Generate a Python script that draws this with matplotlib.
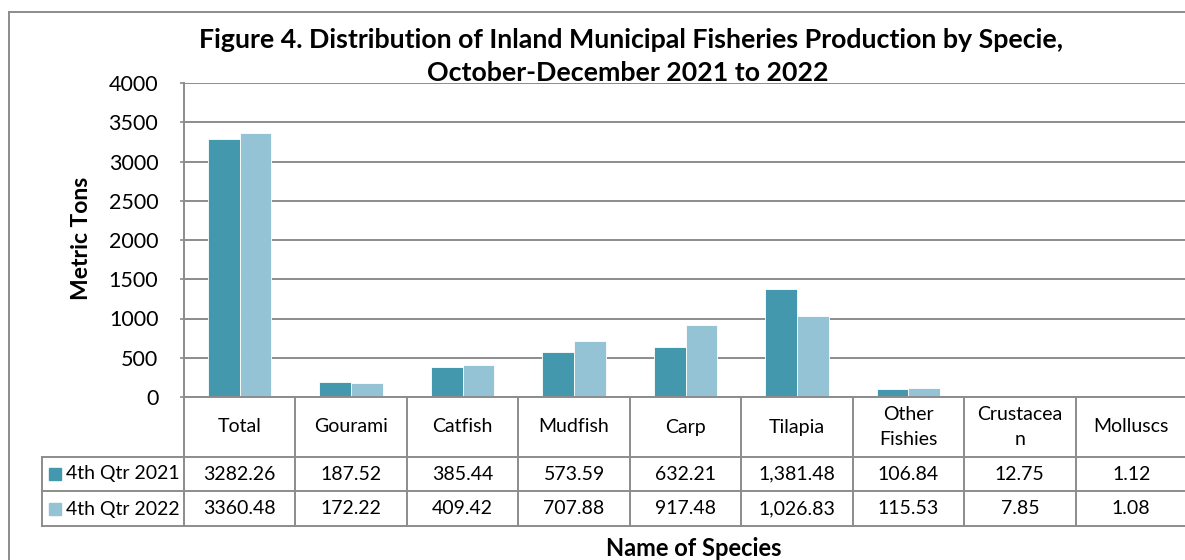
import matplotlib
matplotlib.use("Agg")
import matplotlib.pyplot as plt
import matplotlib.transforms as mtransforms
from matplotlib.patches import Rectangle
import numpy as np

plt.rcParams['font.family'] = ['Lato', 'DejaVu Sans']

# Data
species = ["Total", "Gourami", "Catfish", "Mudfish", "Carp", "Tilapia",
           "Other\nFishies", "Crustacea\nn", "Molluscs"]
series_names = ["4th Qtr 2021", "4th Qtr 2022"]
qtr_2021 = [3282.26, 187.52, 385.44, 573.59, 632.21, 1381.48, 106.84, 12.75, 1.12]
qtr_2022 = [3360.48, 172.22, 409.42, 707.88, 917.48, 1026.83, 115.53, 7.85, 1.08]
labels_2021 = ["3282.26", "187.52", "385.44", "573.59", "632.21", "1,381.48", "106.84", "12.75", "1.12"]
labels_2022 = ["3360.48", "172.22", "409.42", "707.88", "917.48", "1,026.83", "115.53", "7.85", "1.08"]
yticks = [0, 500, 1000, 1500, 2000, 2500, 3000, 3500, 4000]

colors = ["#4398AE", "#93C3D5"]
grid_col = "#8C8C8C"

W, H = 1185, 560
fig = plt.figure(figsize=(W / 100, H / 100), dpi=100)

# plot area in pixels
ax_left, ax_right, ax_top, ax_bot = 184, 1187, 83, 397
ax = fig.add_axes([ax_left / W, 1 - ax_bot / H, (ax_right - ax_left) / W, (ax_bot - ax_top) / H])

x = np.arange(len(species))
bw = 0.285
ax.bar(x - bw / 2, qtr_2021, bw, color=colors[0], edgecolor="white", linewidth=0.6, zorder=3)
ax.bar(x + bw / 2, qtr_2022, bw, color=colors[1], edgecolor="white", linewidth=0.6, zorder=3)

ax.set_xlim(-0.5, len(species) - 0.5)
ax.set_ylim(0, 4000)
ax.set_yticks(yticks)
ax.set_yticklabels([str(t) for t in yticks], fontsize=15.5)
ax.tick_params(axis='y', length=3, color=grid_col, width=1.2, pad=15.5)
ax.set_xticks([])
ax.yaxis.grid(True, color=grid_col, linewidth=1.4, zorder=0)
for s in ["top", "right", "bottom"]:
    ax.spines[s].set_visible(False)
ax.spines["left"].set_color(grid_col)
ax.spines["left"].set_linewidth(1.4)

# data table under the axis
def py(p):
    # pixel row -> axes y fraction
    return (ax_bot - p) / (ax_bot - ax_top)

trans = ax.get_xaxis_transform()
row_y = [397, 457, 491, 526]
lk = dict(color=grid_col, linewidth=1.4, clip_on=False, zorder=4)
for r in row_y:
    ax.plot([-0.5, len(species) - 0.5], [py(r)] * 2, transform=trans, **lk)
for b in np.arange(len(species) + 1) - 0.5:
    ax.plot([b, b], [py(397), py(526)], transform=trans, **lk)

# row header column, x in figure coords
leg_left = 42
blend = mtransforms.blended_transform_factory(fig.transFigure, ax.transAxes)
for r in row_y[1:]:
    ax.plot([leg_left / W, ax_left / W], [py(r)] * 2, transform=blend, **lk)
ax.plot([leg_left / W] * 2, [py(457), py(526)], transform=blend, **lk)

fs = 14
for i, name in enumerate(species):
    ax.text(i, py(427), name, transform=trans, ha="center", va="center",
            fontsize=fs, linespacing=1.55)
    ax.text(i, py(474), labels_2021[i], transform=trans, ha="center", va="center", fontsize=fs)
    ax.text(i, py(509), labels_2022[i], transform=trans, ha="center", va="center", fontsize=fs)

for k, (nm, yc) in enumerate(zip(series_names, [474, 509])):
    fig.patches.append(Rectangle((49 / W, 1 - (yc + 6) / H), 12 / W, 12 / H,
                                 transform=fig.transFigure, color=colors[k]))
    fig.text(66 / W, 1 - yc / H, nm, ha="left", va="center", fontsize=fs)

# titles and axis labels
fig.text(631 / W, 1 - 40 / H, "Figure 4. Distribution of Inland Municipal Fisheries Production by Specie,",
         ha="center", va="center", fontsize=19.3, fontweight="bold")
fig.text(628 / W, 1 - 73 / H, "October-December 2021 to 2022",
         ha="center", va="center", fontsize=19.3, fontweight="bold")
fig.text(82 / W, 1 - 238 / H, "Metric Tons", rotation=90, ha="center", va="center",
         fontsize=16.5, fontweight="bold")
fig.text(694 / W, 1 - 548 / H, "Name of Species", ha="center", va="center",
         fontsize=17, fontweight="bold")

# outer chart frame
fig.lines.append(plt.Line2D([9 / W, 9 / W], [0, 1 - 12 / H], transform=fig.transFigure,
                            color=grid_col, linewidth=1.4))
fig.lines.append(plt.Line2D([9 / W, 1], [1 - 12 / H, 1 - 12 / H], transform=fig.transFigure,
                            color=grid_col, linewidth=1.4))

fig.savefig("out.png", dpi=100)
